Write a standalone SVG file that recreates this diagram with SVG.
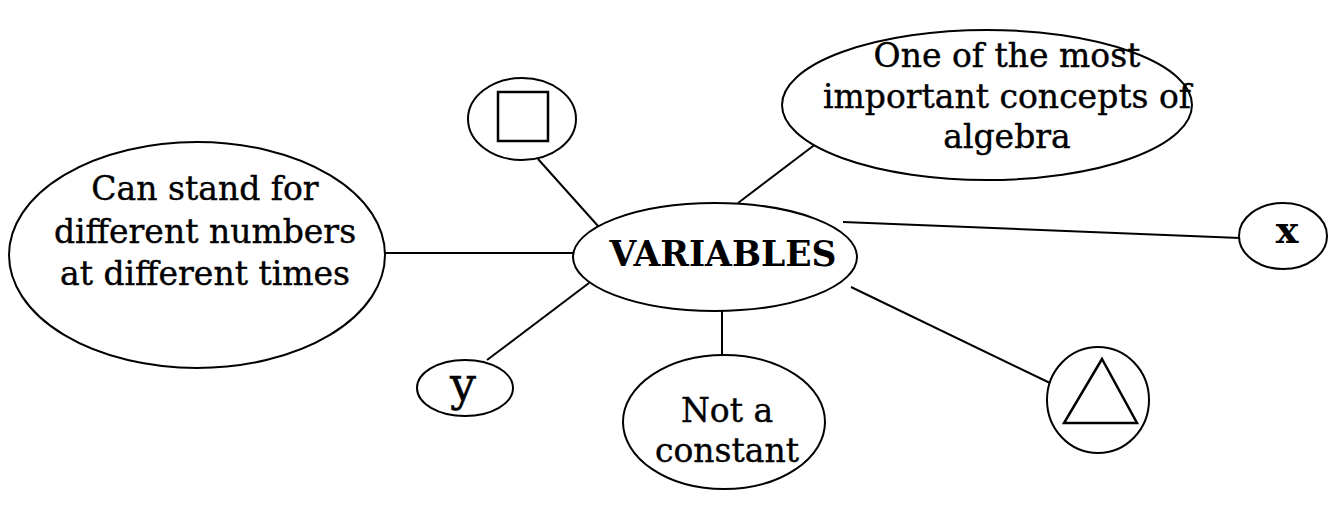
<svg xmlns="http://www.w3.org/2000/svg" width="1328" height="510" viewBox="0 0 1328 510">
<style>
.n{fill:#fff;stroke:#000;stroke-width:2}
.c line{stroke:#000;stroke-width:2}
text{font-family:"DejaVu Serif","Liberation Serif",serif;font-size:33px;fill:#000;stroke:#000;stroke-width:0.4;text-anchor:middle}
.b{font-weight:bold;stroke-width:0}
</style>
<rect width="1328" height="510" fill="#fff"/>
<g class="c" id="connectors">
<line x1="385" y1="253" x2="573" y2="253"/>
<line x1="538" y1="159" x2="598" y2="226"/>
<line x1="825" y1="137" x2="738" y2="203"/>
<line x1="843" y1="222" x2="1240" y2="238"/>
<line x1="487" y1="360" x2="589" y2="283"/>
<line x1="722" y1="310" x2="722" y2="356"/>
<line x1="851" y1="287" x2="1050" y2="383"/>
</g>
<g id="n-center">
<ellipse class="n" cx="715" cy="257" rx="142" ry="54"/>
<text class="b" x="723" y="266" style="font-size:34.5px">VARIABLES</text>
</g>
<g id="n-left">
<ellipse class="n" cx="197" cy="255" rx="188" ry="113"/>
<text x="205" y="200">Can stand for</text>
<text x="205" y="243">different numbers</text>
<text x="205" y="285">at different times</text>
</g>
<g id="n-square">
<ellipse class="n" cx="522" cy="119" rx="54" ry="41"/>
<rect x="498" y="92" width="50" height="49" fill="none" stroke="#000" stroke-width="2.5"/>
</g>
<g id="n-top">
<ellipse class="n" cx="987" cy="105" rx="205" ry="75"/>
<text x="1007" y="67">One of the most</text>
<text x="1007" y="108">important concepts of</text>
<text x="1007" y="148">algebra</text>
</g>
<g id="n-x">
<ellipse class="n" cx="1283" cy="236" rx="44" ry="33"/>
<text class="b" x="1287" y="243" style="font-size:38px">x</text>
</g>
<g id="n-y">
<ellipse class="n" cx="465" cy="388" rx="48" ry="28"/>
<text x="463" y="400" style="font-size:46px">y</text>
</g>
<g id="n-const">
<ellipse class="n" cx="724" cy="422" rx="101" ry="67"/>
<text x="727" y="422">Not a</text>
<text x="727" y="462">constant</text>
</g>
<g id="n-triangle">
<ellipse class="n" cx="1098" cy="400" rx="51" ry="53"/>
<polygon points="1102,359 1064,423 1137,423" fill="none" stroke="#000" stroke-width="2.5" stroke-linejoin="miter"/>
</g>
</svg>
